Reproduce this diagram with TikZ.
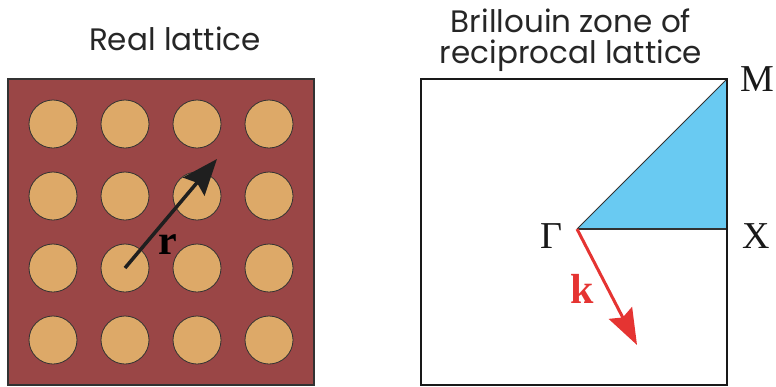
\documentclass[tikz,border=0pt]{standalone}
\usepackage{fontspec}
\setmainfont{Liberation Serif}
\newfontfamily\titlefont{Poppins}
\usetikzlibrary{arrows.meta}
\definecolor{brick}{RGB}{154,70,70}
\definecolor{tan}{RGB}{221,169,104}
\definecolor{bzblue}{RGB}{105,202,242}
\definecolor{kred}{RGB}{229,52,50}
\definecolor{edge}{RGB}{50,50,50}
\begin{document}
\begin{tikzpicture}[x=1pt,y=-1pt,
  title/.style={font=\titlefont\fontsize{31}{36}\selectfont, text=black!85, inner sep=0},
  ptlabel/.style={font=\fontsize{38}{40}\selectfont, inner sep=0, text=black!90},
  vec/.style={font=\bfseries\fontsize{42}{42}\selectfont, inner sep=0},
  atom/.style={circle, draw=edge, line width=0.8pt, fill=tan, minimum size=48pt, inner sep=0}]
\useasboundingbox (0,0) rectangle (776,386);
% titles
\node[title, anchor=base] (t1) at (175,50) {Real lattice};
\node[title, anchor=base] (t2) at (571,32) {Brillouin zone of};
\node[title, anchor=base] (t3) at (571,63) {reciprocal lattice};
% real lattice
\draw[edge, fill=brick, line width=1.2pt] (8,79) rectangle (314,385);
\foreach \i in {0,...,3} {
  \foreach \j in {0,...,3} {
    \node[atom] (a\i\j) at ({53+72*\i},{124+72*\j}) {};
  }
}
\coordinate (rtip) at (217,159);
\draw[-{Stealth[length=36pt,width=28pt,inset=5pt]}, line width=3.5pt, black!88] (a12.center) -- (rtip);
\node[vec] (rl) at (168,245) {r};
% Brillouin zone
\coordinate (G) at (577,229);
\coordinate (Mc) at (727,79);
\coordinate (Xc) at (727,229);
\fill[bzblue] (G) -- (Mc) -- (Xc) -- cycle;
\draw[edge, line width=0.8pt] (G) -- (Mc);
\draw[edge, line width=1.2pt] (G) -- (Xc);
\draw[black!90, line width=1.5pt] (421,79) rectangle (727,385);
\node[ptlabel] (gl) at (551,236) {Γ};
\node[ptlabel] (ml) at (757,79) {M};
\node[ptlabel] (xl) at (756,236) {X};
\coordinate (ktip) at (637,345);
\draw[-{Stealth[length=36pt,width=26pt,inset=5pt]}, line width=3pt, kred] (G) -- (ktip);
\node[vec, text=kred] (kl) at (582,289) {k};
\end{tikzpicture}
\end{document}
